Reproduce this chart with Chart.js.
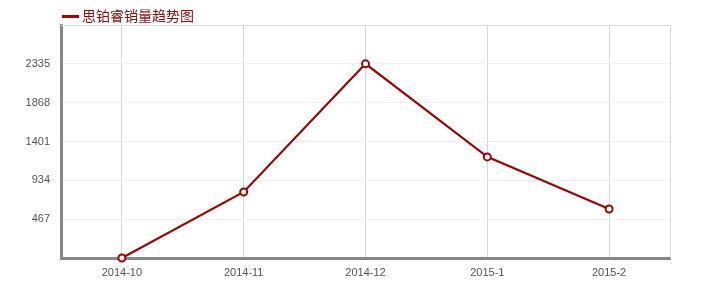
<!DOCTYPE html>
<html>
<head>
<meta charset="utf-8">
<script src="https://cdn.jsdelivr.net/npm/chart.js@4.4.1/dist/chart.umd.min.js"></script>
<style>
  html, body { margin: 0; padding: 0; background: #fff; }
  #wrap { width: 708px; height: 289px; }
</style>
</head>
<body>
<div id="wrap"><canvas id="chart"></canvas></div>
<script>
// chart data
const categories = ['2014-10', '2014-11', '2014-12', '2015-1', '2015-2'];
const sales = [0, 794, 2335, 1216, 589];
const yTicks = [467, 934, 1401, 1868, 2335];
const yMax = 2802;
const seriesName = '思铂睿销量趋势图';

const RED = '#990606';

// legend drawn at the top left + light frame around the plot
const framePlugin = {
  id: 'frame',
  beforeDatasetsDraw(chart) {
    const { ctx, chartArea: a } = chart;
    ctx.save();
    ctx.strokeStyle = '#dcdcdc';
    ctx.lineWidth = 1;
    ctx.beginPath();
    ctx.moveTo(a.left, a.top + 0.5);
    ctx.lineTo(a.right + 0.5, a.top + 0.5);
    ctx.lineTo(a.right + 0.5, a.bottom);
    ctx.stroke();
    ctx.restore();
  },
  afterDraw(chart) {
    const { ctx } = chart;
    const label = chart.data.datasets[0].label;
    ctx.save();
    ctx.strokeStyle = RED;
    ctx.lineWidth = 3;
    ctx.beginPath();
    ctx.moveTo(62, 16.5);
    ctx.lineTo(79, 16.5);
    ctx.stroke();
    ctx.fillStyle = '#8c0c0c';
    ctx.font = "14px 'Noto Sans CJK SC', sans-serif";
    ctx.textBaseline = 'middle';
    ctx.fillText(label, 82, 16);
    ctx.restore();
  },
};

new Chart(document.getElementById('chart'), {
  type: 'line',
  data: {
    labels: categories,
    datasets: [{
      label: seriesName,
      data: sales,
      borderColor: RED,
      borderWidth: 2.2,
      tension: 0,
      pointRadius: 3.5,
      pointBorderWidth: 2,
      pointBackgroundColor: '#fff',
      pointBorderColor: RED,
      clip: false,
    }],
  },
  options: {
    responsive: true,
    maintainAspectRatio: false,
    animation: false,
    layout: { padding: { top: 25, right: 38, left: 0, bottom: 0 } },
    plugins: {
      legend: { display: false },
      tooltip: { enabled: false },
    },
    scales: {
      x: {
        offset: true,
        afterFit(scale) { scale.height = 31; },
        grid: {
          offset: false,
          color: '#d9d9d9',
          drawTicks: false,
        },
        border: { color: '#888', width: 3 },
        ticks: {
          color: '#555',
          padding: 8,
          font: { family: "'Liberation Sans', Arial, sans-serif", size: 11 },
        },
      },
      y: {
        min: 0,
        max: yMax,
        afterFit(scale) { scale.width = 61; },
        afterBuildTicks(scale) {
          scale.ticks = [0, ...yTicks, yMax].map(v => ({ value: v }));
        },
        grid: {
          color: '#f2f2f2',
          drawTicks: false,
        },
        border: { color: '#888', width: 3 },
        ticks: {
          color: '#555',
          padding: 11,
          font: { family: "'Liberation Sans', Arial, sans-serif", size: 11 },
          callback: v => (yTicks.includes(v) ? String(v) : ''),
        },
      },
    },
  },
  plugins: [framePlugin],
});
</script>
</body>
</html>
